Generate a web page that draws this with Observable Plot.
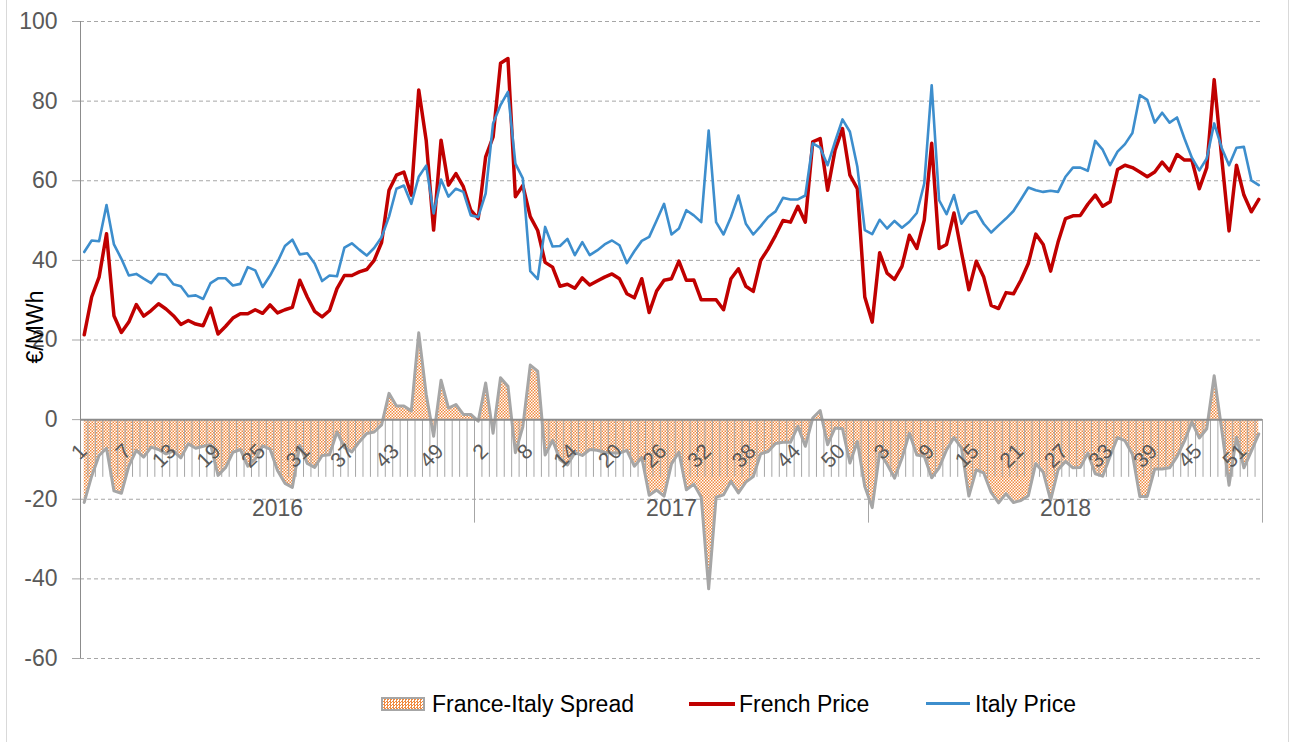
<!DOCTYPE html>
<html>
<head>
<meta charset="utf-8">
<script src="https://cdn.jsdelivr.net/npm/d3@7"></script>
<script src="https://cdn.jsdelivr.net/npm/@observablehq/plot@0.6"></script>
<style>
  html, body { margin: 0; padding: 0; background: #fff; }
  #wrap { position: relative; width: 1292px; height: 742px; overflow: hidden;
          font-family: "Liberation Sans", Arial, sans-serif; background: #fff; }
  #chart { position: absolute; left: 0; top: 0; }
  #frame { position: absolute; left: 6px; top: -2px; width: 1283px; height: 746px;
           border: 1px solid #d9d9d9; box-sizing: border-box; pointer-events: none; }
  #ylabel { position: absolute; left: 35px; top: 327px; transform: translate(-50%, -50%) rotate(-90deg);
            white-space: nowrap; font-size: 23px; color: #000; }
  .lg { position: absolute; font-size: 23px; color: #000; height: 26px; line-height: 26px; top: 691px; white-space: nowrap; }
  .sw { position: absolute; }
  #sw-spread { left: 381px; top: 697px; width: 44px; height: 14px; box-sizing: border-box;
               border: 2px solid #a6a6a6;
               background: repeating-conic-gradient(#F08A40 0 25%, #fff 0 50%) 0 0 / 3px 3px; }
  #sw-fr { left: 689px; top: 702px; width: 46px; height: 4px; background: #C00000; }
  #sw-it { left: 926px; top: 702px; width: 44px; height: 3px; background: #3D8ECD; }
</style>
</head>
<body>
<div id="wrap">
  <div id="chart"></div>
  <div id="ylabel">€/MWh</div>
  <div class="sw" id="sw-spread"></div><div class="lg" style="left:432px">France-Italy Spread</div>
  <div class="sw" id="sw-fr"></div><div class="lg" style="left:739px">French Price</div>
  <div class="sw" id="sw-it"></div><div class="lg" style="left:975px">Italy Price</div>
  <div id="frame"></div>
</div>
<script>
// ---- Data (weekly, €/MWh) ----
const years = ["2016", "2017", "2018"];
const weeksPerYear = [53, 53, 53];

const italyPrice = [
  // 2016
  42.1,45.0,44.8,53.9,44.0,40.4,36.2,36.6,35.4,34.3,36.6,36.4,34.0,33.5,31.0,31.2,30.3,34.3,35.5,35.5,
  33.7,34.1,38.3,37.5,33.3,36.2,39.6,43.6,45.2,41.5,41.8,39.2,34.8,36.2,36.0,43.2,44.3,42.7,41.2,43.1,
  45.8,51.0,58.0,58.8,54.2,61.0,63.8,51.8,60.3,56.0,58.0,57.2,51.3,
  // 2017
  50.9,56.8,74.4,79.0,82.3,64.3,60.6,37.3,35.3,48.4,43.5,43.6,45.4,41.3,44.6,41.3,42.5,44.0,45.0,43.8,
  39.3,42.3,44.9,45.9,50.0,54.2,46.5,48.0,52.6,51.3,49.6,72.6,49.6,46.5,50.9,56.3,49.2,46.5,48.6,50.9,
  52.3,55.7,55.3,55.3,56.3,69.4,68.3,63.9,69.8,75.4,72.3,63.5,47.6,
  // 2018
  46.6,50.2,48.0,49.9,48.2,49.7,51.9,59.3,84.0,55.1,51.6,56.4,49.2,51.8,52.4,49.2,47.0,48.8,50.5,52.4,
  55.3,58.3,57.6,57.2,57.5,57.2,61.0,63.3,63.3,62.5,70.0,67.8,63.9,67.3,69.2,72.0,81.5,80.3,74.6,77.1,
  74.6,75.9,70.6,65.8,62.6,65.6,74.4,68.3,63.9,68.3,68.5,60.1,58.9
];

const frenchPrice = [
  // 2016
  21.3,30.8,35.8,46.7,26.1,21.9,24.5,28.9,26.0,27.4,29.1,27.8,26.1,23.9,24.9,24.0,23.6,28.0,21.5,23.4,
  25.5,26.6,26.6,27.6,26.7,28.8,26.8,27.6,28.2,35.0,30.8,27.2,25.8,27.4,32.9,36.2,36.2,37.1,37.7,40.0,
  44.5,57.6,61.4,62.2,56.4,82.8,70.2,47.6,70.2,58.9,61.8,58.5,52.6,
  // 2017
  50.5,66.0,71.0,89.5,90.7,56.0,58.8,51.0,47.5,39.5,38.3,33.5,34.0,33.0,35.6,33.8,34.8,35.8,36.6,35.4,
  31.6,30.6,35.4,26.9,32.3,35.0,35.4,39.8,35.0,35.1,30.1,30.1,30.1,27.6,35.4,37.9,33.5,32.2,40.0,42.9,
  46.3,50.0,49.6,53.6,49.6,69.8,70.6,57.6,67.7,73.1,61.4,58.0,30.8,
  // 2018
  24.5,41.9,36.8,35.2,38.5,46.3,43.0,50.1,69.4,43.0,44.0,51.9,42.1,32.6,39.8,35.8,28.7,27.9,31.9,31.6,
  35.0,39.2,46.6,44.0,37.3,44.6,50.5,51.2,51.3,54.1,56.4,53.6,54.7,62.8,63.9,63.3,62.2,61.0,62.2,64.7,
  62.5,66.6,65.2,65.2,58.0,63.3,85.4,66.0,47.4,63.9,56.4,52.2,55.3
];

const yTicks = [-60, -40, -20, 0, 20, 40, 60, 80, 100];
const labelEvery = 6;

// ---- Derived tables ----
const N = italyPrice.length;
const rows = italyPrice.map((it, i) => ({
  x: i + 0.5,
  italy: it,
  french: frenchPrice[i],
  spread: +(frenchPrice[i] - it).toFixed(2)
}));

const weekRows = [];
const yearRows = [];
const yearBounds = [];
let idx = 0;
years.forEach((y, k) => {
  const start = idx;
  for (let w = 1; w <= weeksPerYear[k]; w++) { weekRows.push({x: idx + 0.5, i: idx, week: String(w)}); idx++; }
  yearRows.push({x: start + weeksPerYear[k] / 2, year: y});
  yearBounds.push(idx);
});
const weekLabelRows = weekRows.filter(d => d.i % labelEvery === 0);

const FONT = '"Liberation Sans", Arial, sans-serif';
const GRAY = "#a6a6a6";
const TXT = "#595959";
const TICK_LEN = -14.5;   // tick length expressed in y units
const YEAR_TICK_LEN = -26;

const svg = Plot.plot({
  width: 1292,
  height: 680,
  marginLeft: 80,
  marginRight: 30,
  marginTop: 21,
  marginBottom: 22,
  x: {domain: [0, N], axis: null},
  y: {domain: [-60, 100], axis: null},
  style: {fontFamily: FONT, background: "transparent", overflow: "visible"},
  marks: [
    Plot.ruleY(yTicks.filter(t => t !== 0), {stroke: GRAY, strokeDasharray: "4,3", strokeWidth: 1}),
    Plot.areaY(rows, {x: "x", y: "spread", fill: "url(#spreadDots)"}),
    Plot.ruleX(d3.range(0, N + 1), {y1: 0, y2: TICK_LEN, stroke: GRAY, strokeWidth: 1}),
    Plot.ruleX(yearBounds, {y1: 0, y2: YEAR_TICK_LEN, stroke: GRAY, strokeWidth: 1}),
    Plot.lineY(rows, {x: "x", y: "spread", stroke: GRAY, strokeWidth: 3, strokeLinejoin: "round"}),
    Plot.ruleY([0], {stroke: "#8c8c8c", strokeWidth: 2}),
    Plot.ruleX([0], {stroke: "#8c8c8c", strokeWidth: 1}),
    Plot.axisY({ticks: yTicks, tickFormat: d => String(d), tickSize: 8, tickPadding: 15, fontSize: 23,
      fill: TXT, stroke: GRAY, label: null}),
    Plot.lineY(rows, {x: "x", y: "french", stroke: "#C00000", strokeWidth: 3.5, strokeLinejoin: "round"}),
    Plot.lineY(rows, {x: "x", y: "italy", stroke: "#3D8ECD", strokeWidth: 2.6, strokeLinejoin: "round"}),
    Plot.text(weekLabelRows, {x: "x", y: () => 0, text: "week", rotate: -45, textAnchor: "end",
      dx: -1, dy: 28, fontSize: 21, fill: TXT}),
    Plot.text(yearRows, {x: "x", y: () => 0, text: "year", dy: 89, fontSize: 23, fill: TXT})
  ]
});

const ns = "http://www.w3.org/2000/svg";
const defs = document.createElementNS(ns, "defs");
defs.innerHTML = '<pattern id="spreadDots" width="3" height="3" patternUnits="userSpaceOnUse">' +
  '<rect width="3" height="3" fill="#ffffff"/>' +
  '<rect width="1.5" height="1.5" fill="#F08A40"/>' +
  '<rect x="1.5" y="1.5" width="1.5" height="1.5" fill="#F08A40"/></pattern>';
svg.insertBefore(defs, svg.firstChild);

document.getElementById("chart").appendChild(svg);
</script>
</body>
</html>
